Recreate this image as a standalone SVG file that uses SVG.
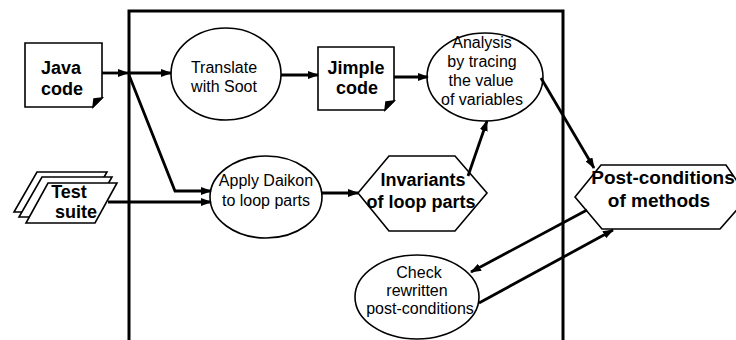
<svg xmlns="http://www.w3.org/2000/svg" width="736" height="340" viewBox="0 0 736 340">
<style>
.node{fill:#fff;stroke:#000;stroke-width:1.6}
.frame{fill:none;stroke:#000;stroke-width:3}
.b{font-family:"Liberation Sans",Arial,sans-serif;font-weight:bold;font-size:18px;text-anchor:middle;fill:#000}
.r{font-family:"Liberation Sans",Arial,sans-serif;font-size:16px;text-anchor:middle;fill:#000}
.c{fill:none;stroke:#000;stroke-width:2.8;marker-end:url(#ah)}
</style>
<defs>
<marker id="ah" markerUnits="userSpaceOnUse" markerWidth="11" markerHeight="8" refX="10" refY="4" orient="auto">
<path d="M0,0 L11,4 L0,8 z" fill="#000"/>
</marker>
</defs>
<rect width="736" height="340" fill="#fff"/>
<g id="frame"><path class="frame" d="M129,345 L129,11 L563,11 L563,345"/></g>

<g id="java">
<path class="node" d="M25,43 L102,43 L102,98 L93,107 L25,107 z"/>
<path d="M102,98 L93,107 L94,99 z" fill="#000" stroke="#000" stroke-width="1.5"/>
<text class="b" x="61" y="74">Java</text>
<text class="b" x="62" y="95">code</text>
</g>

<g id="tests">
<path class="node" d="M37,172 L107,172 L84,212 L14,212 z"/>
<path class="node" d="M42,177 L112,177 L89,217 L19,217 z"/>
<path class="node" d="M48,183 L117,183 L95,223 L26,223 z"/>
<text class="b" x="69" y="198">Test</text>
<text class="b" x="76" y="218">suite</text>
</g>

<g id="translate">
<ellipse class="node" cx="226" cy="74" rx="55" ry="46"/>
<text class="r" x="224" y="73">Translate</text>
<text class="r" x="224" y="92">with Soot</text>
</g>

<g id="jimple">
<path class="node" d="M318,47 L394,47 L394,101 L385,110 L318,110 z"/>
<path d="M394,101 L385,110 L386,102 z" fill="#000" stroke="#000" stroke-width="1.5"/>
<text class="b" x="356" y="74">Jimple</text>
<text class="b" x="357" y="94">code</text>
</g>

<g id="analysis">
<ellipse class="node" cx="485" cy="77" rx="58" ry="44"/>
<text class="r" x="482" y="48">Analysis</text>
<text class="r" x="482" y="67">by tracing</text>
<text class="r" x="481" y="86">the value</text>
<text class="r" x="482" y="105">of variables</text>
</g>

<g id="daikon">
<ellipse class="node" cx="266" cy="197" rx="56" ry="41"/>
<text class="r" x="266" y="186">Apply Daikon</text>
<text class="r" x="266" y="206">to loop parts</text>
</g>

<g id="invariants">
<path class="node" d="M358,193 L389,156 L455,156 L487,193 L455,231 L389,231 z"/>
<text class="b" x="423" y="186">Invariants</text>
<text class="b" x="421" y="208">of loop parts</text>
</g>

<g id="post">
<path class="node" d="M575,197 L601,165 L726,165 L748,197 L720,229 L602,229 z"/>
<text class="b" x="663" y="184" style="font-size:19px">Post-conditions</text>
<text class="b" x="659" y="207" style="font-size:19px">of methods</text>
</g>

<g id="check">
<ellipse class="node" cx="417" cy="297" rx="62" ry="42"/>
<text class="r" x="419" y="278">Check</text>
<text class="r" x="417" y="296">rewritten</text>
<text class="r" x="420" y="314">post-conditions</text>
</g>

<g id="connectors">
<path class="c" d="M102,73 L128,73"/>
<path class="c" d="M129,73 L171,73"/>
<path class="c" d="M129,75 L175,191 L211,191"/>
<path class="c" d="M108,202 L211,202"/>
<path class="c" d="M281,75 L318,75"/>
<path class="c" d="M394,77 L428,77"/>
<path class="c" d="M322,193 L358,193"/>
<path class="c" d="M468,176 L487,121"/>
<path class="c" d="M541,78 L594,168"/>
<path class="c" d="M587,210 L471,272"/>
<path class="c" d="M479,303 L613,230"/>
</g>
</svg>
